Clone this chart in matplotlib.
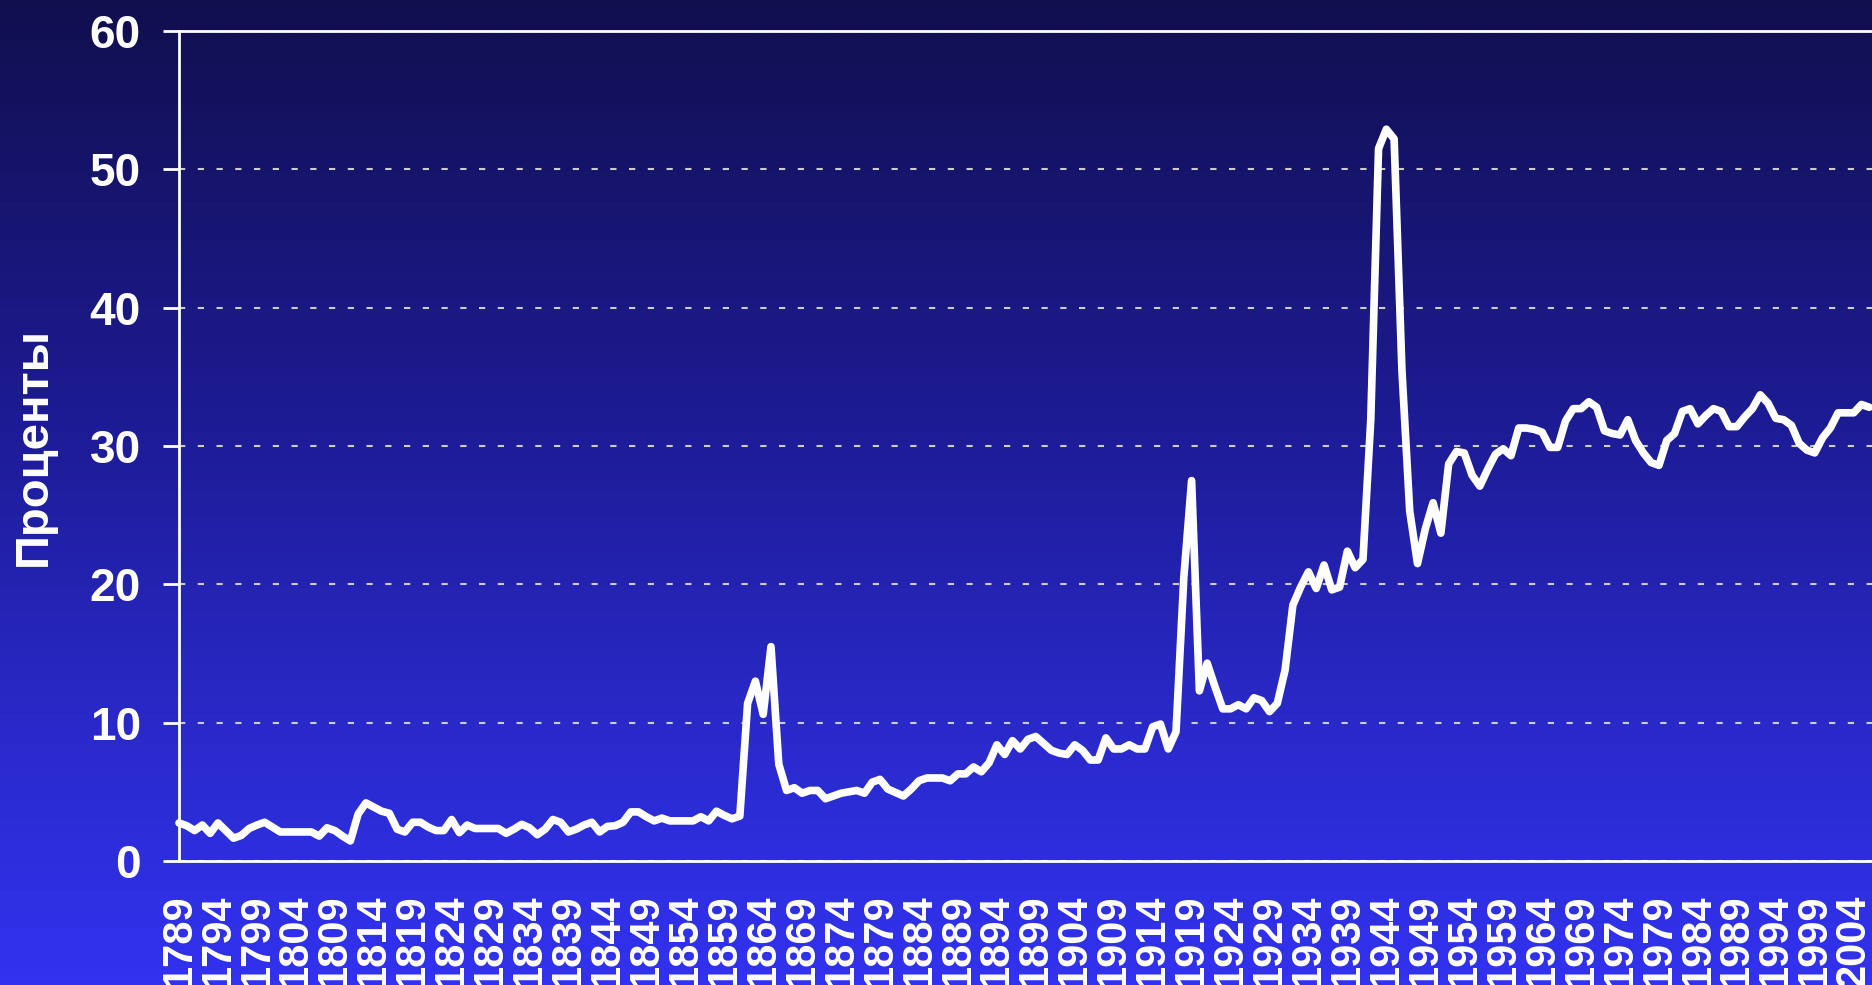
import numpy as np
import matplotlib
matplotlib.use("Agg")
import matplotlib.pyplot as plt
from matplotlib.colors import LinearSegmentedColormap

# Данные: проценты по годам 1789-2006
years = list(range(1789, 2007))
vals_1789_1833 = [2.75, 2.55, 2.2, 2.6, 2.0, 2.75, 2.2, 1.65, 1.85, 2.35,
                  2.6, 2.8, 2.45, 2.1, 2.1, 2.1, 2.1, 2.1, 1.8, 2.4,
                  2.2, 1.8, 1.45, 3.4, 4.2, 3.9, 3.6, 3.45, 2.3, 2.1,
                  2.8, 2.8, 2.45, 2.2, 2.2, 3.0, 2.05, 2.6, 2.35, 2.35,
                  2.35, 2.35, 2.0, 2.3, 2.65]
vals_1834_1877 = [2.4, 1.9, 2.3, 3.0, 2.8, 2.1, 2.3, 2.6, 2.8, 2.1,
                  2.5, 2.55, 2.8, 3.55, 3.55, 3.2, 2.9, 3.1, 2.9, 2.9,
                  2.9, 2.9, 3.2, 2.9, 3.6, 3.3, 3.05, 3.25, 11.4, 13.0,
                  10.6, 15.5, 7.0, 5.1, 5.3, 4.9, 5.1, 5.1, 4.5, 4.7,
                  4.9, 5.0, 5.1, 4.9]
vals_1878_1941 = [5.7, 5.9, 5.2, 4.95, 4.7, 5.2, 5.8, 6.0, 6.0, 6.0,
                  5.8, 6.3, 6.3, 6.8, 6.45, 7.1, 8.4, 7.7, 8.7, 8.1,
                  8.8, 9.0, 8.5, 8.0, 7.8, 7.7, 8.4, 8.0, 7.3, 7.3,
                  8.9, 8.1, 8.1, 8.4, 8.1, 8.1, 9.7, 9.9, 8.1, 9.35,
                  20.5, 27.5, 12.3, 14.3, 12.6, 11.0, 11.0, 11.3, 11.0, 11.8,
                  11.6, 10.8, 11.4, 13.8, 18.5, 19.8, 20.9, 19.7, 21.4, 19.6,
                  19.8, 22.4, 21.2, 21.8]
vals_1942_2006 = [31.9, 51.5, 52.9, 52.2, 35.5, 25.3, 21.5, 24.0, 25.9, 23.7,
                  28.7, 29.6, 29.5, 27.9, 27.1, 28.3, 29.4, 29.8, 29.3, 31.3,
                  31.3, 31.2, 31.0, 29.9, 29.9, 31.8, 32.7, 32.7, 33.2, 32.8,
                  31.1, 30.9, 30.8, 31.9, 30.4, 29.5, 28.8, 28.6, 30.4, 30.9,
                  32.5, 32.7, 31.6, 32.2, 32.7, 32.5, 31.4, 31.4, 32.1, 32.7,
                  33.7, 33.1, 32.0, 31.9, 31.5, 30.2, 29.7, 29.5, 30.6, 31.3,
                  32.4, 32.4, 32.4, 33.0, 32.8]
values = vals_1789_1833 + vals_1834_1877 + vals_1878_1941 + vals_1942_2006

tick_years = list(range(1789, 2005, 5))
y_ticks = [0, 10, 20, 30, 40, 50, 60]

FONT = "Liberation Sans"

fig = plt.figure(figsize=(18.72, 9.85), dpi=100)

# Градиентный фон
bg = fig.add_axes([0, 0, 1, 1], zorder=-1)
cmap = LinearSegmentedColormap.from_list(
    "bg", [(0.0, "#110f4e"), (0.45, "#1e1c98"), (0.75, "#2a2acc"), (1.0, "#3232f0")])
grad = np.linspace(0, 1, 256).reshape(-1, 1)
bg.imshow(grad, aspect="auto", cmap=cmap, extent=[0, 1, 0, 1], origin="upper")
bg.set_axis_off()

ax = fig.add_axes([179 / 1872, 1 - 861 / 985, 1 - 179 / 1872, (861 - 31) / 985])
ax.set_facecolor("none")

ax.plot(years, values, color="white", linewidth=5.5, solid_joinstyle="round",
        solid_capstyle="round", zorder=3, clip_on=False)

ax.set_xlim(1789, 2006.35)
ax.set_ylim(0, 60)
ax.set_yticks(y_ticks)
ax.set_xticks(tick_years)
ax.set_xticklabels([str(y) for y in tick_years], rotation=90)

ax.grid(axis="y", color="#cccccc", linewidth=1.5, linestyle=(0, (3, 6)))
ax.grid(axis="x", visible=False)

for s in ["left", "bottom", "top"]:
    ax.spines[s].set_color("white")
    ax.spines[s].set_linewidth(2)
ax.spines["right"].set_visible(False)

ax.tick_params(axis="y", colors="white", length=11.5, width=2, pad=16,
               labelsize=33)
ax.tick_params(axis="x", colors="white", length=0, pad=24, labelsize=30)
for lab in ax.get_xticklabels() + ax.get_yticklabels():
    lab.set_fontfamily(FONT)
    lab.set_fontweight("bold")

fig.text(34 / 1872, 1 - 446 / 985, "Проценты", rotation=90, color="white",
         fontsize=34, fontweight="bold", family=FONT, ha="center", va="center")

fig.savefig("out.png", dpi=100)
